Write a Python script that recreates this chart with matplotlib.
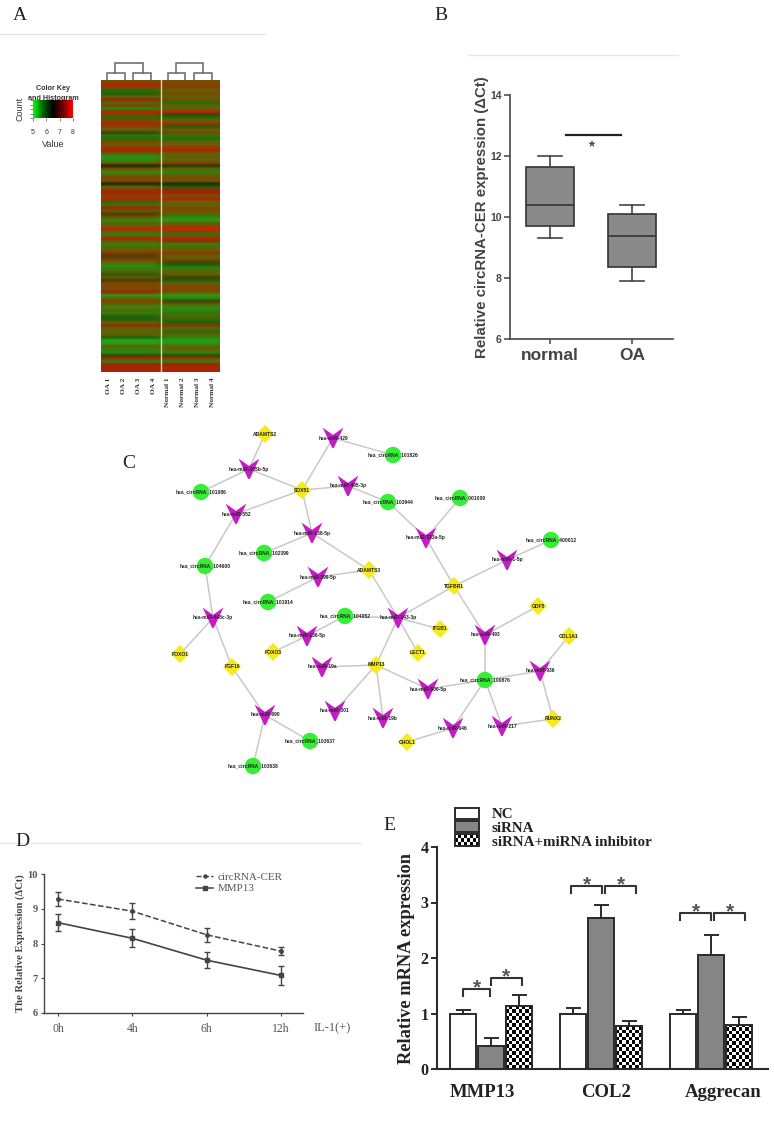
import numpy as np
import matplotlib
matplotlib.use("Agg")
import matplotlib.pyplot as plt
from matplotlib.colors import LinearSegmentedColormap
from matplotlib.lines import Line2D
from matplotlib.path import Path
from matplotlib.patches import Rectangle

W, H = 774, 1127
SERIF = "Liberation Serif"
SANS = "Liberation Sans"

##### panel A data #####
heat_oa = [6.5, 7.6, 6.8, 5.7, 5.8, 6.2, 7.2, 6.2, 6.7, 5.5, 7.6, 6.7, 5.7, 6.7, 7.7, 6.7, 6.2, 6.1, 5.6, 5.7,
           6.7, 6.2, 7.7, 7.0, 6.2, 5.3, 5.4, 6.2, 6.0, 6.7, 5.4, 6.2, 6.7, 6.7, 6.0, 6.2, 7.0, 7.4, 6.7, 7.7,
           5.7, 6.2, 7.1, 6.4, 6.1, 6.7, 5.4, 6.2, 6.2, 7.8, 6.2, 5.5, 7.6, 6.5, 5.5, 6.2, 6.2, 7.0, 6.1, 7.0,
           6.2, 5.4, 5.5, 6.2, 5.8, 6.5, 6.1, 6.7, 6.7, 6.7, 7.2, 5.2, 6.2, 6.7, 6.2, 5.4, 6.2, 5.5, 5.8, 5.8,
           6.2, 7.1, 6.2, 6.2, 6.2, 5.8, 5.1, 5.2, 6.2, 5.5, 5.5, 6.1, 7.0, 5.5, 7.2, 7.4, 7.4]
heat_normal = [6.5, 6.8, 6.7, 6.2, 6.7, 6.2, 6.6, 5.7, 6.2, 6.2, 7.8, 6.1, 5.7, 6.2, 7.7, 5.8, 6.2, 6.7, 5.6, 5.7,
               6.2, 6.2, 7.8, 7.0, 6.2, 6.2, 6.2, 6.7, 6.05, 6.2, 5.5, 6.2, 6.7, 6.4, 6.0, 5.8, 7.2, 7.3, 6.5, 7.6,
               6.2, 6.2, 6.7, 6.5, 6.2, 5.5, 5.2, 6.2, 6.7, 8.0, 6.7, 5.6, 7.7, 7.1, 5.5, 6.2, 6.2, 6.9, 6.2, 6.6,
               6.1, 5.8, 5.5, 6.2, 6.2, 6.1, 5.8, 6.2, 6.7, 6.7, 6.5, 5.2, 5.5, 6.1, 6.2, 5.4, 5.5, 5.6, 6.2, 5.7,
               5.8, 7.0, 6.2, 5.7, 6.2, 5.5, 5.2, 5.3, 6.2, 6.2, 5.5, 6.1, 6.8, 5.5, 7.2, 7.6, 7.5]
sample_labels = ["OA 1", "OA 2", "OA 3", "OA 4", "Normal 1", "Normal 2", "Normal 3", "Normal 4"]
key_ticks = [5, 6, 7, 8]

##### panel B data #####
box_labels = ["normal", "OA"]
box_low = [9.3, 7.9]
box_q1 = [9.72, 8.35]
box_med = [10.4, 9.37]
box_q3 = [11.63, 10.1]
box_high = [12.0, 10.4]

##### panel C data #####
circ_names = ["hsa_circRNA_101826", "hsa_circRNA_101086", "hsa_circRNA_103944", "hsa_circRNA_001009",
              "hsa_circRNA_102399", "hsa_circRNA_104600", "hsa_circRNA_400012", "hsa_circRNA_101914",
              "hsa_circRNA_104052", "hsa_circRNA_100876", "hsa_circRNA_103637", "hsa_circRNA_103638"]
circ_x = [393, 201, 388, 460, 264, 205, 551, 268, 345, 485, 310, 253]
circ_y = [455, 492, 502, 498, 553, 566, 540, 602, 616, 680, 741, 766]
mir_names = ["hsa-miR-205b-5p", "hsa-miR-429", "hsa-miR-495-3p", "hsa-miR-552", "hsa-miR-138-5p", "hsa-miR-299-5p",
             "hsa-miR-323a-5p", "hsa-miR-1-5p", "hsa-miR-143-3p", "hsa-miR-448c-3p", "hsa-miR-136-5p", "hsa-miR-19a",
             "hsa-miR-301", "hsa-miR-19b", "hsa-miR-690", "hsa-miR-493", "hsa-miR-936", "hsa-miR-506-5p",
             "hsa-miR-217", "hsa-miR-646"]
mir_x = [249, 333, 348, 236, 312, 318, 426, 507, 398, 213, 307, 322, 335, 383, 265, 485, 540, 428, 502, 453]
mir_y = [469, 438, 486, 514, 533, 577, 538, 560, 618, 618, 636, 667, 711, 718, 715, 635, 671, 689, 726, 728]
gene_names = ["ADAMTS2", "SOX51", "ADAMTS3", "TGFBR1", "GDF5", "FOXO1", "FOXO3", "FGF16", "MMP13",
              "ITGB1", "LECT1", "COL1A1", "RUNX2", "CHOL1"]
gene_x = [265, 302, 369, 454, 538, 180, 273, 232, 376, 440, 418, 569, 553, 407]
gene_y = [434, 490, 570, 586, 606, 654, 652, 667, 665, 629, 653, 636, 719, 742]
edges = [("ADAMTS2", "hsa-miR-205b-5p"), ("hsa-miR-205b-5p", "hsa_circRNA_101086"), ("hsa-miR-205b-5p", "SOX51"),
         ("hsa-miR-429", "SOX51"), ("hsa-miR-429", "hsa_circRNA_101826"), ("SOX51", "hsa-miR-495-3p"),
         ("hsa-miR-495-3p", "hsa_circRNA_103944"), ("SOX51", "hsa-miR-552"), ("hsa-miR-552", "hsa_circRNA_104600"),
         ("SOX51", "hsa-miR-138-5p"), ("hsa-miR-138-5p", "hsa_circRNA_102399"), ("hsa-miR-138-5p", "ADAMTS3"),
         ("ADAMTS3", "hsa-miR-299-5p"), ("hsa-miR-299-5p", "hsa_circRNA_101914"),
         ("hsa_circRNA_104600", "hsa-miR-448c-3p"), ("hsa-miR-448c-3p", "FOXO1"), ("hsa-miR-448c-3p", "FGF16"),
         ("FGF16", "hsa-miR-690"), ("hsa-miR-690", "hsa_circRNA_103637"), ("hsa-miR-690", "hsa_circRNA_103638"),
         ("hsa_circRNA_103944", "hsa-miR-323a-5p"), ("hsa_circRNA_001009", "hsa-miR-323a-5p"),
         ("hsa-miR-323a-5p", "TGFBR1"), ("TGFBR1", "hsa-miR-1-5p"), ("hsa-miR-1-5p", "hsa_circRNA_400012"),
         ("TGFBR1", "hsa-miR-143-3p"), ("TGFBR1", "hsa-miR-493"), ("hsa-miR-493", "GDF5"),
         ("hsa-miR-493", "hsa_circRNA_100876"), ("ADAMTS3", "hsa-miR-143-3p"),
         ("hsa-miR-143-3p", "hsa_circRNA_104052"), ("hsa_circRNA_104052", "hsa-miR-136-5p"),
         ("hsa-miR-136-5p", "FOXO3"), ("hsa-miR-143-3p", "ITGB1"), ("hsa-miR-143-3p", "LECT1"),
         ("hsa-miR-143-3p", "MMP13"), ("MMP13", "hsa-miR-19a"), ("MMP13", "hsa-miR-301"), ("MMP13", "hsa-miR-19b"),
         ("MMP13", "hsa-miR-506-5p"), ("hsa-miR-506-5p", "hsa_circRNA_100876"),
         ("hsa_circRNA_100876", "hsa-miR-936"), ("hsa-miR-936", "COL1A1"), ("hsa-miR-936", "RUNX2"),
         ("hsa_circRNA_100876", "hsa-miR-217"), ("hsa-miR-217", "RUNX2"), ("hsa_circRNA_100876", "hsa-miR-646"),
         ("hsa-miR-646", "CHOL1")]

##### panel D data #####
times = ["0h", "4h", "6h", "12h"]
circ_mean = [9.28, 8.93, 8.25, 7.78]
circ_err = [0.2, 0.23, 0.2, 0.11]
mmp_mean = [8.6, 8.15, 7.52, 7.08]
mmp_err = [0.25, 0.26, 0.23, 0.27]

##### panel E data #####
genes = ["MMP13", "COL2", "Aggrecan"]
nc_vals = [1.0, 1.0, 1.0]
nc_err = [0.07, 0.1, 0.07]
sirna_vals = [0.42, 2.72, 2.05]
sirna_err = [0.13, 0.23, 0.37]
inhib_vals = [1.13, 0.77, 0.8]
inhib_err = [0.2, 0.09, 0.13]
bracket_x0 = [-0.25, 0.0, 0.73, 1.04, 1.72, 2.03]
bracket_x1 = [-0.01, 0.28, 1.01, 1.32, 2.0, 2.31]
bracket_y = [1.44, 1.64, 3.30, 3.30, 2.81, 2.81]


def axes_px(fig, left, top, right, bottom):
    return fig.add_axes([left / W, 1 - bottom / H, (right - left) / W, (bottom - top) / H])


def checker(rows, cols):
    r, c = np.indices((rows, cols))
    return (r + c) % 2


fig = plt.figure(figsize=(W / 100, H / 100), dpi=100, facecolor="white")

# background layer in pixel coordinates: rules, panel letters, network
bg = fig.add_axes([0, 0, 1, 1])
bg.set_xlim(0, W)
bg.set_ylim(H, 0)
bg.axis("off")

for x0, x1, yy in [(0, 265, 34), (468, 678, 55), (0, 360, 843)]:
    bg.plot([x0, x1], [yy, yy], color="#e6e6e6", lw=1)
for letter, lx, ly in [("A", 20, 15), ("B", 441, 16), ("C", 129, 464), ("D", 22, 841), ("E", 389, 826)]:
    bg.text(lx, ly, letter, family=SERIF, fontsize=14, ha="center", va="center", color="#222222")

##### panel C #####
pos = {}
for names, xs, ys in [(circ_names, circ_x, circ_y), (mir_names, mir_x, mir_y), (gene_names, gene_x, gene_y)]:
    for n, px, py in zip(names, xs, ys):
        pos[n] = (px, py)
for a, b in edges:
    bg.plot([pos[a][0], pos[b][0]], [pos[a][1], pos[b][1]], color="#c9c9c9", lw=1.1, zorder=1)

v_marker = Path([(-1, 1), (0, 0.3), (1, 1), (0.08, -0.95), (-0.08, -0.95), (-1, 1)])
bg.scatter(circ_x, circ_y, s=140, c="#35ee35", edgecolors="none", zorder=2)
bg.scatter(gene_x, gene_y, s=85, marker="D", c="#f6ea1c", edgecolors="none", zorder=2)
bg.scatter(mir_x, mir_y, s=225, marker=v_marker, c="#c51dc5", edgecolors="none", zorder=2)
for names, xs, ys in [(circ_names, circ_x, circ_y), (mir_names, mir_x, mir_y), (gene_names, gene_x, gene_y)]:
    for n, px, py in zip(names, xs, ys):
        bg.text(px, py, n, fontsize=3.6, fontweight="bold", family=SANS, ha="center", va="center",
                color="#222222", zorder=3)

##### panel A #####
heat_cmap = LinearSegmentedColormap.from_list("heat", [
    (0.0, (0.13, 0.68, 0.10)),
    (0.5 / 3, (0.17, 0.52, 0.05)),
    (0.8 / 3, (0.13, 0.38, 0.03)),
    (1.0 / 3, (0.12, 0.16, 0.02)),
    (1.2 / 3, (0.38, 0.38, 0.02)),
    (1.7 / 3, (0.50, 0.28, 0.00)),
    (2.2 / 3, (0.60, 0.15, 0.02)),
    (1.0, (0.80, 0.13, 0.03))])
heat = np.column_stack([heat_oa] * 4 + [heat_normal] * 4)
ax_a = axes_px(fig, 101, 80, 220, 372)
ax_a.imshow(heat, cmap=heat_cmap, vmin=5, vmax=8, aspect="auto", interpolation="bilinear",
            interpolation_stage="rgba", extent=[0, 8, len(heat_oa), 0])
ax_a.axvline(4, color="#d8d8b8", lw=1)
ax_a.set_xticks(np.arange(8) + 0.5)
ax_a.set_xticklabels(sample_labels, rotation=90, family=SERIF, fontweight="bold", fontsize=5.3, color="#333333")
ax_a.tick_params(length=0, pad=4)
ax_a.set_yticks([])
for s in ax_a.spines.values():
    s.set_visible(False)

# dendrogram brackets
dend = dict(color="#666666", lw=1.1, solid_joinstyle="miter")
for x0, x1 in [(107, 125), (133, 151), (168, 185), (194, 212)]:
    bg.plot([x0, x0, x1, x1], [81, 73, 73, 81], **dend)
for x0, x1 in [(115, 143), (176, 203)]:
    bg.plot([x0, x0, x1, x1], [73, 63, 63, 73], **dend)

# colour key
key_cmap = LinearSegmentedColormap.from_list("key", ["#00ff00", "#006000", "#000000", "#700000", "#ff0000"])
ax_key = axes_px(fig, 33, 100, 73, 118)
ax_key.imshow(np.linspace(5, 8, 80)[None, :], cmap=key_cmap, aspect="auto", extent=[5, 8, 0, 1])
ax_key.set_xticks(key_ticks)
ax_key.set_xticklabels(key_ticks, fontsize=5, family=SANS, color="#333333")
ax_key.set_yticks([0, 0.25, 0.5, 0.75, 1])
ax_key.set_yticklabels([])
ax_key.tick_params(length=2, width=0.5, pad=6, color="#555555")
ax_key.tick_params(axis="y", pad=1)
ax_key.set_xlabel("Value", fontsize=6.5, family=SANS, color="#333333", labelpad=3)
ax_key.set_ylabel("Count", fontsize=6.5, family=SANS, color="#333333", labelpad=3)
for s in ax_key.spines.values():
    s.set_visible(False)
bg.text(53, 88, "Color Key", fontsize=5.2, fontweight="bold", family=SANS, ha="center", va="center", color="#333333")
bg.text(53, 98, "and Histogram", fontsize=5.2, fontweight="bold", family=SANS, ha="center", va="center", color="#333333")

##### panel B #####
ax_b = axes_px(fig, 510, 95, 673, 339)
stats = [dict(label=l, whislo=a, q1=b, med=c, q3=d, whishi=e, fliers=[])
         for l, a, b, c, d, e in zip(box_labels, box_low, box_q1, box_med, box_q3, box_high)]
ax_b.bxp(stats, positions=[1, 2], widths=0.585, patch_artist=True, showfliers=False,
         boxprops=dict(facecolor="#8a8a8a", edgecolor="#333333", lw=1.2),
         medianprops=dict(color="#333333", lw=1.2),
         whiskerprops=dict(color="#444444", lw=1.2),
         capprops=dict(color="#444444", lw=1.2), capwidths=0.3)
ax_b.set_xlim(0.512, 2.5)
ax_b.set_ylim(6, 14)
ax_b.set_yticks([6, 8, 10, 12, 14])
ax_b.spines[["top", "right"]].set_visible(False)
ax_b.spines[["left", "bottom"]].set_linewidth(1.2)
ax_b.spines[["left", "bottom"]].set_color("#444444")
ax_b.tick_params(axis="y", labelsize=7.5, length=4, width=1.1, color="#444444", labelcolor="#444444", pad=2)
ax_b.tick_params(axis="x", labelsize=12.5, length=3.5, width=1.1, color="#444444", labelcolor="#444444", pad=3)
for t in ax_b.get_yticklabels() + ax_b.get_xticklabels():
    t.set_family(SANS)
    t.set_fontweight("bold")
ax_b.set_ylabel("Relative circRNA-CER expression (\u0394Ct)", fontsize=10.8, fontweight="bold", family=SANS,
                color="#444444", labelpad=1)
ax_b.plot([1.195, 1.866], [12.69, 12.69], color="#222222", lw=1.6)
ax_b.text(1.51, 12.3, "*", fontsize=11, fontweight="bold", ha="center", va="center", color="#444444", family=SANS)

##### panel D #####
ax_d = axes_px(fig, 43.5, 874, 303, 1013)
xs = np.arange(len(times))
grey = "#444444"
ax_d.errorbar(xs, circ_mean, yerr=circ_err, color=grey, ls="--", lw=1.1, marker="o", ms=2.5, capsize=2, elinewidth=1)
ax_d.errorbar(xs, mmp_mean, yerr=mmp_err, color=grey, ls="-", lw=1.2, marker="s", ms=2.5, capsize=2, elinewidth=1)
ax_d.set_xlim(-0.195, 3.296)
ax_d.set_ylim(6, 10)
ax_d.set_yticks([6, 7, 8, 9, 10])
ax_d.set_xticks(xs)
ax_d.set_xticklabels(times)
ax_d.spines[["top", "right"]].set_visible(False)
ax_d.spines[["left", "bottom"]].set_linewidth(1)
ax_d.spines[["left", "bottom"]].set_color(grey)
ax_d.tick_params(axis="both", length=2.5, width=0.8, color=grey, labelcolor="#555555", labelsize=8.5, pad=5)
ax_d.tick_params(axis="y", pad=1.5, labelsize=7.5)
for t in ax_d.get_yticklabels() + ax_d.get_xticklabels():
    t.set_family(SERIF)
for t in ax_d.get_yticklabels():
    t.set_fontweight("bold")
ax_d.set_ylabel("The Relative Expression (\u0394Ct)", fontsize=7.7, fontweight="bold", family=[SERIF, "DejaVu Sans"],
                color=grey, labelpad=2)
handles = [Line2D([], [], color=grey, ls="--", lw=1, marker="o", ms=2.2),
           Line2D([], [], color=grey, ls="-", lw=1.1, marker="s", ms=2.2)]
ax_d.legend(handles, ["circRNA-CER", "MMP13"], loc="upper left", bbox_to_anchor=(186 / W, 1 - 862 / H),
            bbox_transform=fig.transFigure, frameon=False, labelcolor="#555555",
            prop=dict(family=SERIF, size=7.9), labelspacing=0.2, handlelength=1.6, handletextpad=0.4)
bg.text(332, 1028, "IL-1(+)", family=SERIF, fontsize=9, ha="center", va="center", color="#555555")

##### panel E #####
ax_e = axes_px(fig, 437, 847, 768, 1069)
gx = np.arange(len(genes))
step, bw = 0.2545, 0.236
dark = "#2b2b2b"
bars_nc = ax_e.bar(gx - step, nc_vals, bw, color="white", edgecolor=dark, lw=1.4)
bars_si = ax_e.bar(gx, sirna_vals, bw, color="#858585", edgecolor=dark, lw=1.4)
bars_in = ax_e.bar(gx + step, inhib_vals, bw, color="white", edgecolor=dark, lw=1.4, zorder=3)
for offs, vals, errs in [(-step, nc_vals, nc_err), (0, sirna_vals, sirna_err), (step, inhib_vals, inhib_err)]:
    ax_e.errorbar(gx + offs, vals, yerr=[[0] * 3, errs], fmt="none", ecolor=dark, elinewidth=1.4, capsize=5.4,
                  capthick=1.4, zorder=1)
for rect, v in zip(bars_in, inhib_vals):
    x0 = rect.get_x()
    im = ax_e.imshow(checker(int(v * 55.5 / 3.4), 8), cmap="gray_r", vmin=0, vmax=1, aspect="auto", zorder=3.5,
                     extent=[x0, x0 + bw, 0, v], interpolation="nearest")
    im.set_clip_path(Rectangle((x0, 0), bw, v, transform=ax_e.transData))
    ax_e.add_patch(Rectangle((x0, 0), bw, v, fill=False, edgecolor=dark, lw=1.4, zorder=4))
ax_e.set_xlim(-0.49, 2.518)
ax_e.set_ylim(0, 4)
ax_e.set_yticks([0, 1, 2, 3, 4])
ax_e.set_xticks([-0.08, 1.045, 2.11])
ax_e.set_xticklabels(genes)
ax_e.spines[["top", "right"]].set_visible(False)
ax_e.spines[["left", "bottom"]].set_linewidth(1.5)
ax_e.spines[["left", "bottom"]].set_color(dark)
ax_e.tick_params(axis="x", length=0, labelsize=13.5, pad=11, labelcolor="#222222")
ax_e.tick_params(axis="y", length=4, width=1.4, labelsize=11.5, pad=2, color=dark, labelcolor="#222222")
for t in ax_e.get_yticklabels() + ax_e.get_xticklabels():
    t.set_family(SERIF)
    t.set_fontweight("bold")
ax_e.set_ylabel("Relative mRNA expression", fontsize=13.2, fontweight="bold", family=SERIF, color="#222222", labelpad=4)
for x0, x1, yy in zip(bracket_x0, bracket_x1, bracket_y):
    ax_e.plot([x0, x0, x1, x1], [yy - 0.12, yy, yy, yy - 0.12], color="#333333", lw=1.5, clip_on=False)
    ax_e.text((x0 + x1) / 2, yy + 0.02, "*", fontsize=15, fontweight="bold", ha="center", va="center",
              color="#555555", family=SANS)

# legend of panel E, on top of everything in pixel coordinates
top = fig.add_axes([0, 0, 1, 1], zorder=10)
top.set_xlim(0, W)
top.set_ylim(H, 0)
top.axis("off")
for (y0, y1), fc in zip([(808, 819), (821, 832)], ["white", "#858585"]):
    top.add_patch(Rectangle((455, y0), 24, y1 - y0, facecolor=fc, edgecolor=dark, lw=1.4))
chk = top.imshow(checker(3, 8), cmap="gray_r", vmin=0, vmax=1, aspect="auto", extent=[455, 479, 846, 834],
                 interpolation="nearest")
top.add_patch(Rectangle((455, 834), 24, 12, fill=False, edgecolor=dark, lw=1.4))
top.set_xlim(0, W)
top.set_ylim(H, 0)
for label, yy in zip(["NC", "siRNA", "siRNA+miRNA inhibitor"], [814, 828, 843]):
    top.text(492, yy, label, family=SERIF, fontweight="bold", fontsize=10.8, va="center", color="#222222")

fig.savefig("out.png", dpi=100)
